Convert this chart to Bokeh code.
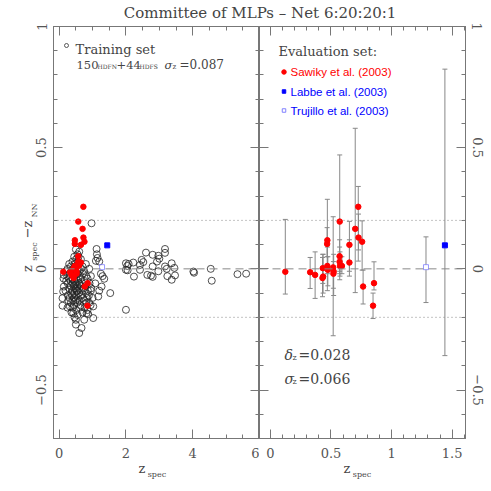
import math
from bokeh.plotting import figure
from bokeh.models import (ColumnDataSource, LinearAxis, FixedTicker, CustomJSTickFormatter,
                          Span, Whisker, TeeHead, Label, Div, Range1d)
from bokeh.layouts import row, column
from bokeh.embed import file_html
from bokeh.resources import INLINE

# ---------------- data ----------------
# Training set (z_spec, z_spec - z_NN)
train_z = [0.97, 1.12, 1.10, 1.20, 1.13, 1.15, 1.25, 1.35, 1.27, 1.53, 1.20, 1.17, 1.02, 1.02, 0.87, 0.82,
           0.60, 0.58, 0.14, 0.13, 0.14, 0.12, 0.10, 0.10, 0.26, 0.27, 0.32, 0.42, 0.50, 0.67, 0.60, 1.00,
           1.08, 0.95, 0.90, 1.30,
           2.00, 2.04, 2.08, 2.00, 2.05, 2.24, 2.22, 2.42, 2.47, 2.60, 2.42, 2.52, 2.64, 2.80, 2.80, 2.80,
           2.75, 2.97, 3.00, 2.93, 2.97, 3.17, 3.17, 3.17, 3.22, 3.24, 3.37, 3.45, 3.37, 3.47, 4.02, 4.04,
           4.54, 4.57, 5.34, 5.60, 2.00,
           0.20, 0.21, 0.19,
           0.25, 0.24, 0.26, 0.25,
           0.30, 0.31, 0.29, 0.30, 0.31,
           0.35, 0.36, 0.34, 0.35, 0.36, 0.35, 0.37,
           0.40, 0.41, 0.39, 0.40, 0.41, 0.40, 0.39, 0.42, 0.40,
           0.45, 0.46, 0.44, 0.45, 0.46, 0.44, 0.45, 0.46, 0.45, 0.44, 0.46,
           0.50, 0.51, 0.49, 0.50, 0.51, 0.49, 0.50, 0.52, 0.50, 0.49, 0.51, 0.50,
           0.55, 0.56, 0.54, 0.55, 0.56, 0.54, 0.55, 0.56, 0.54, 0.55,
           0.60, 0.61, 0.59, 0.60, 0.61, 0.59, 0.60, 0.62,
           0.65, 0.66, 0.64, 0.65, 0.66, 0.64,
           0.70, 0.71, 0.69, 0.70, 0.71, 0.70,
           0.75, 0.76, 0.74, 0.75, 0.76, 0.75,
           0.80, 0.81, 0.79, 0.80, 0.81,
           0.85, 0.86, 0.84, 0.85,
           0.90, 0.91, 0.89,
           0.95, 0.96, 0.94]
train_dz = [0.188, 0.082, 0.033, 0.030, 0.060, 0.045, -0.020, -0.041, -0.073, -0.100, -0.090, -0.114, -0.155,
            -0.203, -0.187, -0.183, 0.071, 0.050, -0.025, -0.040, -0.073, -0.093, -0.121, -0.152, -0.110,
            -0.130, -0.155, -0.183, -0.230, -0.244, -0.265, -0.120, -0.060, -0.090, -0.140, -0.030,
            0.023, 0.012, 0.020, -0.004, -0.006, -0.032, 0.026, 0.016, 0.037, 0.067, -0.004, 0.028, -0.025,
            0.058, 0.010, -0.033, -0.028, 0.054, 0.042, 0.030, -0.010, 0.082, 0.066, 0.010, 0.000, -0.030,
            0.023, 0.004, -0.045, -0.027, -0.011, -0.016, 0.000, -0.049, -0.022, -0.020, -0.169,
            -0.010, -0.050, -0.090,
            0.000, -0.030, -0.060, -0.160,
            0.020, -0.020, -0.040, -0.080, -0.120,
            0.010, -0.010, -0.050, -0.070, -0.100, -0.140, -0.180,
            0.030, 0.000, -0.020, -0.040, -0.060, -0.090, -0.110, -0.130, -0.160,
            0.050, 0.020, -0.010, -0.030, -0.050, -0.070, -0.080, -0.100, -0.120, -0.150, -0.200,
            0.080, 0.040, 0.010, -0.020, -0.040, -0.060, -0.080, -0.090, -0.110, -0.130, -0.170, -0.210,
            0.060, 0.030, 0.000, -0.020, -0.050, -0.070, -0.090, -0.120, -0.140, -0.190,
            0.020, -0.010, -0.030, -0.060, -0.080, -0.100, -0.130, -0.160,
            0.040, 0.000, -0.040, -0.070, -0.110, -0.150,
            0.010, -0.020, -0.060, -0.090, -0.120, -0.180,
            -0.010, -0.050, -0.080, -0.130, -0.160, -0.210,
            0.020, -0.030, -0.070, -0.100, -0.140,
            -0.040, -0.090, -0.120, -0.170,
            0.000, -0.060, -0.110,
            -0.030, -0.080, -0.150]

# Evaluation set: Sawiky et al. (2003)
saw_z = [0.123, 0.328, 0.369, 0.430, 0.435, 0.432, 0.470, 0.468, 0.470, 0.474, 0.518, 0.522, 0.520, 0.572,
         0.571, 0.571, 0.574, 0.590, 0.652, 0.652, 0.700, 0.725, 0.727, 0.757, 0.765, 0.855, 0.847]
saw_dz = [-0.012, -0.014, -0.025, -0.038, -0.032, 0.003, 0.118, 0.103, 0.012, -0.004, 0.006, -0.011, -0.020,
          0.195, 0.052, 0.029, 0.012, 0.012, 0.099, 0.026, 0.165, 0.256, 0.129, 0.112, -0.073, -0.059, -0.152]
saw_lo = [-0.104, -0.081, -0.122, -0.115, -0.100, -0.060, -0.020, 0.050, -0.090, -0.070, -0.276, -0.110, -0.080,
          -0.045, -0.010, -0.020, -0.030, -0.020, -0.030, -0.010, -0.098, 0.032, 0.078, -0.005, -0.145, -0.087, -0.205]
saw_hi = [0.204, 0.047, 0.070, 0.047, 0.060, 0.060, 0.287, 0.170, 0.090, 0.050, 0.215, 0.060, 0.030,
          0.470, 0.120, 0.090, 0.070, 0.050, 0.196, 0.120, 0.580, 0.340, 0.226, 0.198, -0.005, 0.029, -0.100]
# Labbe et al. (2003)
lab_z = [1.44]
lab_dz = [0.097]
lab_lo = [-0.358]
lab_hi = [0.824]
# Trujillo et al. (2003)
tru_z = [1.284]
tru_dz = [0.007]
tru_lo = [-0.139]
tru_hi = [0.132]

y_ticks = [-0.5, 0, 0.5, 1]
y_minor = [round(-0.7 + 0.1 * i, 2) for i in range(18)]
xl_ticks = [0, 2, 4, 6]
xl_minor = [0.5 * i for i in range(13)]
xr_ticks = [0, 0.5, 1, 1.5]
xr_minor = [round(0.1 * i, 2) for i in range(17)]

XL = (-0.17, 6.0)
XR = (-0.09, 1.61)
YR = (-0.7, 1.0)

# ---------------- layout helpers (reference pixel -> data) ----------------
LX0, LX1, RX0, RX1, PY0, PY1 = 53, 259, 259, 465, 26, 438
TOP = 22  # height of the title strip


def lx(px):
    return XL[0] + (px - LX0) / (LX1 - LX0) * (XL[1] - XL[0])


def rx(px):
    return XR[0] + (px - RX0) / (RX1 - RX0) * (XR[1] - XR[0])


def yy(py):
    return YR[1] - (py - PY0) / (PY1 - PY0) * (YR[1] - YR[0])


AX = "#777777"
TXT = "#444444"
SERIF = "DejaVu Serif"
SANS = "Liberation Sans"

label_fmt = CustomJSTickFormatter(code="return String(tick).replace('-', '\u2212');")
blank_fmt = CustomJSTickFormatter(code="return '';")


def style_axis(ax, ticks, minor, labels, orient="horizontal", standoff=8):
    ax.ticker = FixedTicker(ticks=ticks, minor_ticks=minor)
    ax.major_tick_in = 9
    ax.major_tick_out = 0
    ax.minor_tick_in = 4
    ax.minor_tick_out = 0
    ax.axis_line_color = AX
    ax.major_tick_line_color = AX
    ax.minor_tick_line_color = AX
    if labels:
        ax.formatter = label_fmt
        ax.major_label_text_font = SERIF
        ax.major_label_text_font_size = "13px"
        ax.major_label_text_color = "#555555"
        ax.major_label_orientation = orient
        ax.major_label_standoff = standoff
    else:
        ax.formatter = blank_fmt
        ax.major_label_standoff = 0
        ax.major_label_text_font_size = "1px"


def text_axis(p, side, ticks, texts, size, standoff, orient="horizontal"):
    """An axis without line or ticks that only carries pieces of an axis title."""
    mapping = ", ".join("%r: %r" % (str(t), s) for t, s in zip(ticks, texts))
    code = "const m = {%s}; return m[String(tick)] || '';" % mapping
    ax = LinearAxis(ticker=FixedTicker(ticks=ticks, minor_ticks=[]),
                    formatter=CustomJSTickFormatter(code=code))
    ax.axis_line_color = None
    ax.major_tick_line_color = None
    ax.minor_tick_line_color = None
    ax.major_tick_in = 0
    ax.major_tick_out = 0
    ax.major_label_standoff = standoff
    ax.major_label_orientation = orient
    ax.major_label_text_font = SERIF
    ax.major_label_text_font_size = size
    ax.major_label_text_color = TXT
    p.add_layout(ax, side)


def make_fig(xr, width, mbl, mbr):
    p = figure(width=width, height=461, x_range=Range1d(*xr), y_range=Range1d(*YR),
               output_backend="svg", toolbar_location=None,
               min_border_left=mbl, min_border_right=mbr, min_border_top=4, min_border_bottom=45)
    p.xgrid.visible = False
    p.ygrid.visible = False
    p.outline_line_color = AX
    p.margin = (0, 0, 0, 0)
    for val, dash in [(0, "8 5"), (0.2, "1 3"), (-0.2, "1 3")]:
        p.add_layout(Span(location=val, dimension="width", line_color="#888888",
                          line_width=1, line_dash=dash))
    return p


def put(p, x, y, text, size, color=TXT, font=SERIF, style="normal", align="left",
        baseline="alphabetic"):
    p.add_layout(Label(x=x, y=y, text=text, text_font_size=size, text_color=color,
                       text_font=font, text_font_style=style, text_align=align,
                       text_baseline=baseline))


# ---------------- left panel ----------------
pl = make_fig(XL, 259, 53, 0)
style_axis(pl.xaxis[0], xl_ticks, xl_minor, True, standoff=9)
style_axis(pl.yaxis[0], y_ticks, y_minor, True, orient="vertical", standoff=7)
ax_r = LinearAxis()
style_axis(ax_r, y_ticks, y_minor, False)
pl.add_layout(ax_r, "right")
ax_t = LinearAxis()
style_axis(ax_t, xl_ticks, xl_minor, False)
pl.add_layout(ax_t, "above")

pl.scatter(train_z, train_dz, marker="circle", size=7, fill_color=None,
           line_color="#222222", line_width=0.8)
pl.scatter(tru_z, tru_dz, marker="square", size=5, fill_color=None, line_color="#8080ff", line_width=0.8)
pl.scatter(lab_z, lab_dz, marker="square", size=5, fill_color="#0000ff", line_color="#0000ff")
pl.scatter(saw_z, saw_dz, marker="circle", size=5.5, fill_color="#ff0000", line_color="#ff0000")

# legend of left panel
pl.scatter([lx(66)], [yy(45)], marker="circle", size=4, fill_color=None, line_color="#333333", line_width=0.8)
put(pl, lx(75), yy(49), "Training set", "13px")
put(pl, lx(76), yy(64), "150", "11.5px")
put(pl, lx(97), yy(66), "HDFN", "6px")
put(pl, lx(116), yy(64), "+44", "11.5px")
put(pl, lx(139), yy(66), "HDFS", "6px")
put(pl, lx(164), yy(64), "σ", "11.5px", style="italic")
put(pl, lx(172), yy(66), "z", "7px")
put(pl, lx(179), yy(64), "=0.087", "12px")

# x-axis title (left): z with subscript "spec"
text_axis(pl, "below", [round(lx(141.5), 4)], ["z"], "13px", 0)
text_axis(pl, "below", [round(lx(156.5), 4)], ["spec"], "8px", -9)
# y-axis title (left): z_spec - z_NN, read bottom to top
text_axis(pl, "left", [round(yy(251), 4), round(yy(210), 4)], ["spec", "NN"], "8px", -6, "vertical")
text_axis(pl, "left", [round(yy(268), 4), round(yy(229), 4)], ["z", "\u2212z"], "13px", -8, "vertical")

# ---------------- right panel ----------------
pr = make_fig(XR, 232, 0, 26)
style_axis(pr.xaxis[0], xr_ticks, xr_minor, True, standoff=9)
style_axis(pr.yaxis[0], y_ticks, y_minor, False)
ax_rr = LinearAxis()
style_axis(ax_rr, y_ticks, y_minor, True, orient="vertical", standoff=7)
pr.add_layout(ax_rr, "right")
ax_rt = LinearAxis()
style_axis(ax_rt, xr_ticks, xr_minor, False)
pr.add_layout(ax_rt, "above")

err = ColumnDataSource(dict(x=saw_z + lab_z + tru_z, lo=saw_lo + lab_lo + tru_lo, hi=saw_hi + lab_hi + tru_hi))
wc = "#888888"
pr.add_layout(Whisker(source=err, base="x", lower="lo", upper="hi", dimension="height",
                      line_color=wc, line_width=1,
                      lower_head=TeeHead(size=5, line_color=wc, line_width=1),
                      upper_head=TeeHead(size=5, line_color=wc, line_width=1)))
pr.scatter(saw_z, saw_dz, marker="circle", size=5.5, fill_color="#ff0000", line_color="#ff0000")
pr.scatter(lab_z, lab_dz, marker="square", size=5, fill_color="#0000ff", line_color="#0000ff")
pr.scatter(tru_z, tru_dz, marker="square", size=5, fill_color="white", line_color="#8080ff", line_width=0.8)

# legend of right panel
put(pr, rx(278), yy(51), "Evaluation set:", "13px")
pr.scatter([rx(283.5)], [yy(71.5)], marker="circle", size=4.5, fill_color="#ff0000", line_color="#ff0000")
pr.scatter([rx(283.5)], [yy(91)], marker="square", size=3.5, fill_color="#0000ff", line_color="#0000ff")
pr.scatter([rx(283.5)], [yy(110)], marker="square", size=3.5, fill_color="white", line_color="#8080ff")
put(pr, rx(290), yy(71.5), "Sawiky et al. (2003)", "11.5px", color="#ff0000", font=SANS, baseline="middle")
put(pr, rx(290), yy(91), "Labbe et al. (2003)", "11.5px", color="#0000ff", font=SANS, baseline="middle")
put(pr, rx(290), yy(110), "Trujillo et al. (2003)", "11.5px", color="#0000ff", font=SANS, baseline="middle")

# statistics
put(pr, rx(284), yy(354), "δ", "14px", style="italic")
put(pr, rx(292), yy(357), "z", "8px")
put(pr, rx(298), yy(354), "=0.028", "14px")
put(pr, rx(284), yy(378), "σ", "14px", style="italic")
put(pr, rx(292), yy(381), "z", "8px")
put(pr, rx(298), yy(378), "=0.066", "14px")

# x-axis title (right)
text_axis(pr, "below", [round(rx(346.5), 4)], ["z"], "13px", 0)
text_axis(pr, "below", [round(rx(361.5), 4)], ["spec"], "8px", -9)

# ---------------- title ----------------
title = Div(text=('<div style="width:491px;height:22px;padding-left:29px;padding-top:6px;'
                  'box-sizing:border-box;text-align:center;'
                  'font-family:\'DejaVu Serif\';font-size:15px;line-height:15px;color:#444;'
                  'white-space:nowrap;">Committee of MLPs \u2013 Net 6:20:20:1</div>'),
            width=491, height=TOP, margin=(0, 0, 0, 0))

layout = column(title, row(pl, pr))
open("out.html", "w", encoding="utf-8").write(file_html(layout, INLINE))
